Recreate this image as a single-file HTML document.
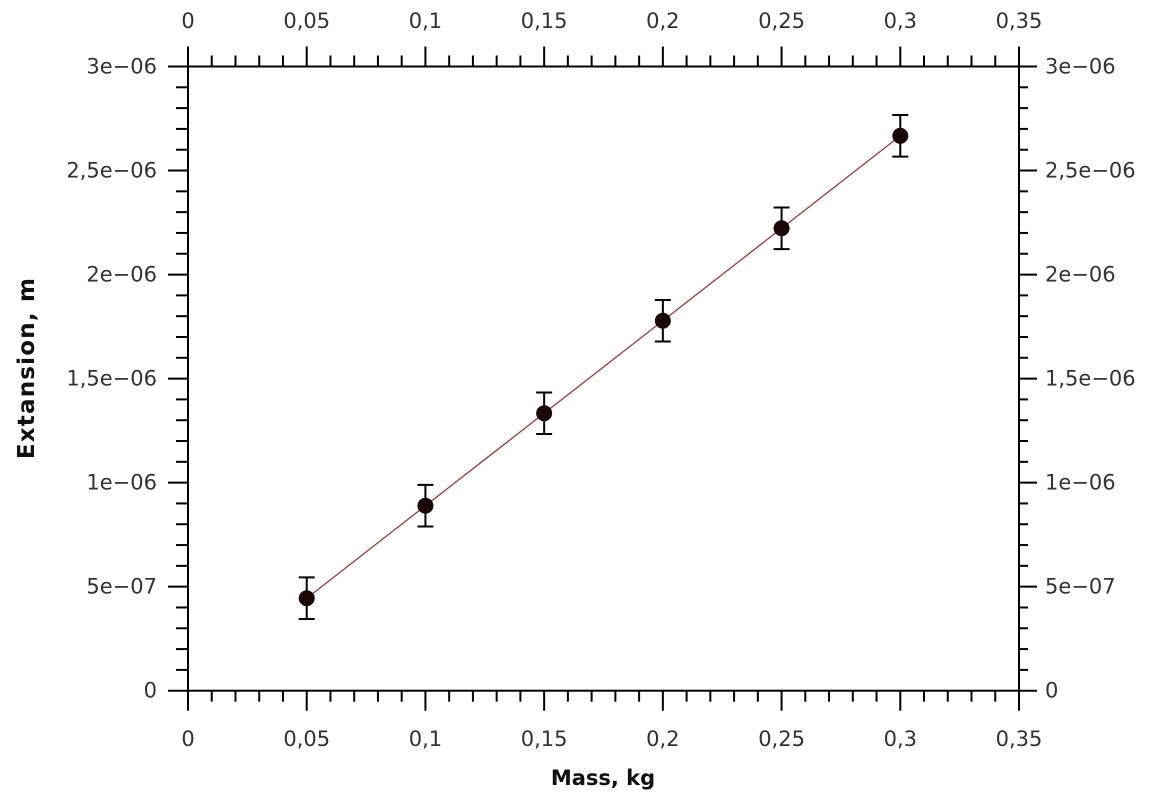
<!DOCTYPE html>
<html><head><meta charset="utf-8"><style>body{margin:0;background:#fff}svg{display:block}</style></head><body>
<svg id="s" width="1155" height="803" xmlns="http://www.w3.org/2000/svg" font-family="'DejaVu Sans','Liberation Sans',sans-serif">
<rect width="1155" height="803" fill="#fff"/>
<g id="g"></g>
</svg>
<script>
const L=188,R=1019,T=66.5,B=690.7;
const xs=v=>L+(R-L)*v/0.35, ys=v=>B-(B-T)*v/3e-6;
let h='';
h+=`<rect x="${L}" y="${T}" width="${R-L}" height="${B-T}" fill="none" stroke="#000" stroke-width="2"/>`;
for(let i=0;i<=35;i++){const x=xs(i*0.01),maj=i%5==0,l=maj?20:11;
h+=`<line x1="${x}" y1="${B}" x2="${x}" y2="${B+l}" stroke="#000" stroke-width="2"/><line x1="${x}" y1="${T}" x2="${x}" y2="${T-l}" stroke="#000" stroke-width="2"/>`;
if(maj){const t=i==0?'0':(i/100).toString().replace('.',',');
h+=`<text x="${x}" y="746" font-size="21" fill="#333" text-anchor="middle">${t}</text><text x="${x}" y="28" font-size="21" fill="#333" text-anchor="middle">${t}</text>`;}}
const yl=['0','5e−07','1e−06','1,5e−06','2e−06','2,5e−06','3e−06'];
for(let i=0;i<=30;i++){const y=ys(i*1e-7),maj=i%5==0,l=maj?20:12;
h+=`<line x1="${L}" y1="${y}" x2="${L-l}" y2="${y}" stroke="#000" stroke-width="2"/><line x1="${R}" y1="${y}" x2="${R+(maj?18:9)}" y2="${y}" stroke="#000" stroke-width="2"/>`;
if(maj){h+=`<text x="157" y="${y+7}" font-size="21" fill="#333" text-anchor="end">${yl[i/5]}</text><text x="1045" y="${y+7}" font-size="21" fill="#333">${yl[i/5]}</text>`;}}
h+=`<line x1="${xs(0.05)}" y1="${ys(0.05*8.89e-6)}" x2="${xs(0.3)}" y2="${ys(0.3*8.89e-6)}" stroke="#a33" stroke-width="1.3"/>`;
for(let k=1;k<=6;k++){const m=k*0.05,x=xs(m),y=ys(m*8.89e-6),e=104*0.2;
h+=`<line x1="${x}" y1="${y-e}" x2="${x}" y2="${y+e}" stroke="#000" stroke-width="2"/><line x1="${x-8}" y1="${y-e}" x2="${x+8}" y2="${y-e}" stroke="#000" stroke-width="2"/><line x1="${x-8}" y1="${y+e}" x2="${x+8}" y2="${y+e}" stroke="#000" stroke-width="2"/><circle cx="${x}" cy="${y}" r="8" fill="#1a0606"/>`;}
h+=`<text x="603" y="785" font-size="21" font-weight="bold" text-anchor="middle" fill="#111">Mass, kg</text>`;
h+=`<text transform="translate(34,368) rotate(-90)" font-size="23" font-weight="bold" letter-spacing="1.2" text-anchor="middle" fill="#111">Extansion, m</text>`;
document.getElementById('g').innerHTML=h;
</script>
</body></html>
